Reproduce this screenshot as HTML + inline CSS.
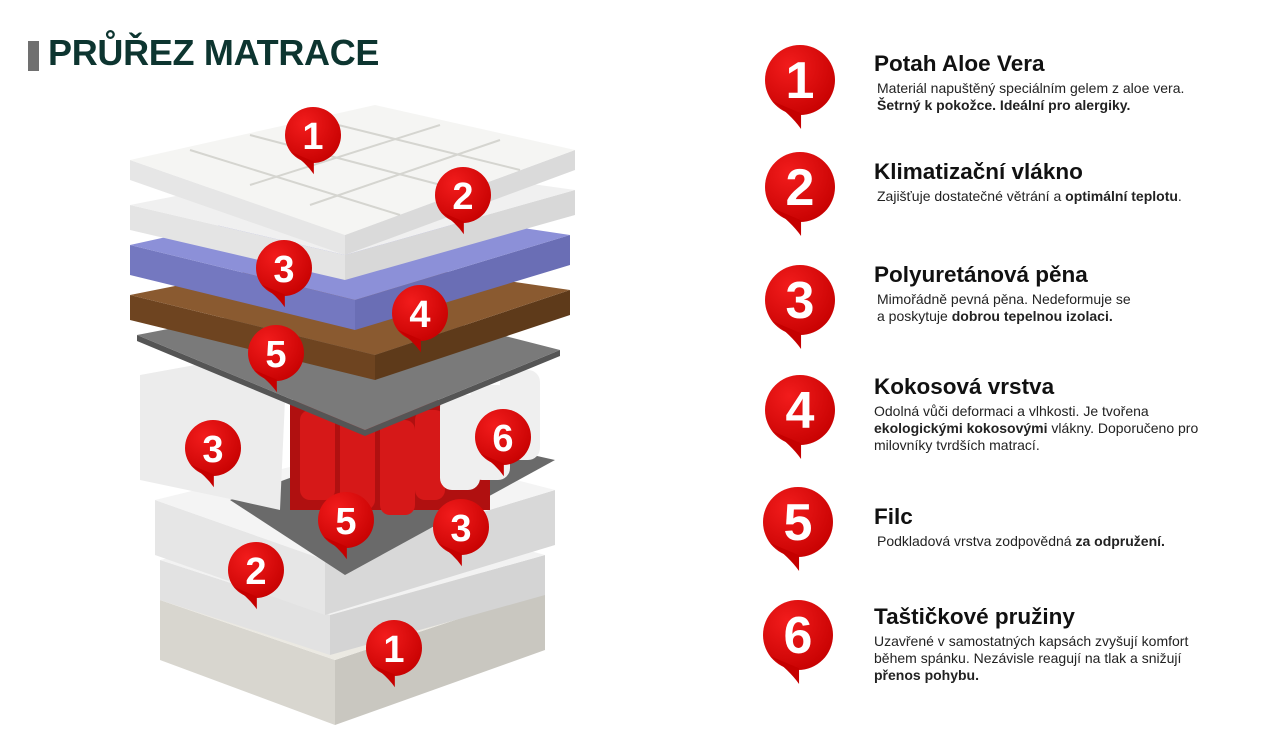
<!DOCTYPE html>
<html><head><meta charset="utf-8"><style>
body{margin:0;width:1280px;height:743px;background:#fff;overflow:hidden;position:relative;font-family:"Liberation Sans",sans-serif}
.t{position:absolute;left:48px;top:32px;font-size:36px;font-weight:bold;color:#0d3530;letter-spacing:-0.3px}
.bar{position:absolute;left:28px;top:41px;width:11px;height:30px;background:#707070}
.it{position:absolute;left:874px}
.it h{display:block;font-size:22.5px;font-weight:bold;color:#111}
.it p{margin:3px 0 0 3px;font-size:14px;line-height:17px;color:#222}
</style></head><body>
<div class="bar"></div><div class="t">PRŮŘEZ MATRACE</div>
<svg width="1280" height="743" style="position:absolute;left:0;top:0">
<defs>
<radialGradient id="rg" cx="0.35" cy="0.3" r="0.8"><stop offset="0" stop-color="#f21c1c"/><stop offset="1" stop-color="#c50000"/></radialGradient>
<g id="pin"><circle r="1" fill="url(#rg)"/><path d="M-0.8,0.6 Q-0.25,1.0 0.03,1.4 L0.03,0.95 Z" fill="#c50000"/></g>
</defs>
<g stroke="none">
<polygon points="160,600 335,660 335,725 160,660" fill="#d8d6cf"/><polygon points="335,660 545,590 545,650 335,725" fill="#c9c7c0"/><polygon points="160,600 385,545 545,590 335,660" fill="#ebe9e2"/>
<polygon points="160,560 330,615 330,655 160,600" fill="#e2e2e2"/><polygon points="330,615 545,555 545,595 330,655" fill="#d4d4d4"/><polygon points="160,560 380,510 545,555 330,615" fill="#f2f2f2"/>
<polygon points="155,500 325,560 325,615 155,555" fill="#e6e6e6"/><polygon points="325,560 555,490 555,545 325,615" fill="#d8d8d8"/><polygon points="155,500 380,445 555,490 325,560" fill="#f4f4f4"/>
<polygon points="230,500 420,430 555,460 345,575" fill="#6a6a6a"/>
<rect x="290" y="400" width="200" height="110" fill="#b01010"/>
<g fill="#d61818"><rect x="300" y="410" width="35" height="90" rx="10"/><rect x="340" y="415" width="35" height="95" rx="10"/><rect x="380" y="420" width="35" height="95" rx="10"/><rect x="415" y="410" width="30" height="90" rx="10"/></g>
<g fill="#efefef"><rect x="440" y="395" width="40" height="95" rx="12"/><rect x="470" y="385" width="40" height="95" rx="12"/><rect x="500" y="370" width="40" height="90" rx="12"/></g>
<polygon points="140,375 250,355 285,400 280,510 235,500 140,480" fill="#ececec"/>
<polygon points="137,335 365,430 365,436 137,341" fill="#555"/><polygon points="365,430 560,350 560,356 365,436" fill="#555"/><polygon points="137,335 345,295 560,350 365,430" fill="#7a7a7a"/>
<polygon points="130,295 375,355 375,380 130,320" fill="#6e4420"/><polygon points="375,355 570,290 570,315 375,380" fill="#5e3a1a"/><polygon points="130,295 330,255 570,290 375,355" fill="#8a5a30"/>
<polygon points="130,245 355,300 355,330 130,275" fill="#7478c0"/><polygon points="355,300 570,235 570,265 355,330" fill="#6a6eb5"/><polygon points="130,245 335,200 570,235 355,300" fill="#8c90d8"/>
<polygon points="130,205 345,255 345,280 130,230" fill="#e4e4e4"/><polygon points="345,255 575,190 575,215 345,280" fill="#d8d8d8"/><polygon points="130,205 360,160 575,190 345,255" fill="#f0f0f0"/>
<polygon points="130,160 345,235 345,255 130,180" fill="#e6e6e6"/><polygon points="345,235 575,150 575,170 345,255" fill="#dadada"/><polygon points="130,160 375,105 575,150 345,235" fill="#f5f5f3"/>
<g stroke="#d5d5d0" stroke-width="2" fill="none"><path d="M250,135 L460,190 M310,118 L520,170 M190,150 L400,215"/><path d="M250,185 L440,125 M310,205 L500,140"/></g>
</g>
<g font-family="Liberation Sans" font-weight="bold" fill="#fff" text-anchor="middle">
<g transform="translate(313,135) scale(28)"><use href="#pin"/></g><text x="313" y="149" font-size="38">1</text>
<g transform="translate(463,195) scale(28)"><use href="#pin"/></g><text x="463" y="209" font-size="38">2</text>
<g transform="translate(284,268) scale(28)"><use href="#pin"/></g><text x="284" y="282" font-size="38">3</text>
<g transform="translate(420,313) scale(28)"><use href="#pin"/></g><text x="420" y="327" font-size="38">4</text>
<g transform="translate(276,353) scale(28)"><use href="#pin"/></g><text x="276" y="367" font-size="38">5</text>
<g transform="translate(213,448) scale(28)"><use href="#pin"/></g><text x="213" y="462" font-size="38">3</text>
<g transform="translate(503,437) scale(28)"><use href="#pin"/></g><text x="503" y="451" font-size="38">6</text>
<g transform="translate(346,520) scale(28)"><use href="#pin"/></g><text x="346" y="534" font-size="38">5</text>
<g transform="translate(461,527) scale(28)"><use href="#pin"/></g><text x="461" y="541" font-size="38">3</text>
<g transform="translate(256,570) scale(28)"><use href="#pin"/></g><text x="256" y="584" font-size="38">2</text>
<g transform="translate(394,648) scale(28)"><use href="#pin"/></g><text x="394" y="662" font-size="38">1</text>
<g transform="translate(800,80) scale(35)"><use href="#pin"/></g><text x="800" y="98" font-size="52">1</text>
<g transform="translate(800,187) scale(35)"><use href="#pin"/></g><text x="800" y="205" font-size="52">2</text>
<g transform="translate(800,300) scale(35)"><use href="#pin"/></g><text x="800" y="318" font-size="52">3</text>
<g transform="translate(800,410) scale(35)"><use href="#pin"/></g><text x="800" y="428" font-size="52">4</text>
<g transform="translate(798,522) scale(35)"><use href="#pin"/></g><text x="798" y="540" font-size="52">5</text>
<g transform="translate(798,635) scale(35)"><use href="#pin"/></g><text x="798" y="653" font-size="52">6</text>
</g>
</svg>
<div class="it" style="top:51px"><h>Potah Aloe Vera</h><p>Materiál napuštěný speciálním gelem z aloe vera.<br><b>Šetrný k pokožce. Ideální pro alergiky.</b></p></div>
<div class="it" style="top:159px"><h>Klimatizační vlákno</h><p>Zajišťuje dostatečné větrání a <b>optimální teplotu</b>.</p></div>
<div class="it" style="top:262px"><h>Polyuretánová pěna</h><p>Mimořádně pevná pěna. Nedeformuje se<br>a poskytuje <b>dobrou tepelnou izolaci.</b></p></div>
<div class="it" style="top:374px"><h>Kokosová vrstva</h><p style="margin-left:0">Odolná vůči deformaci a vlhkosti. Je tvořena<br><b>ekologickými kokosovými</b> vlákny. Doporučeno pro<br>milovníky tvrdších matrací.</p></div>
<div class="it" style="top:504px"><h>Filc</h><p>Podkladová vrstva zodpovědná <b>za odpružení.</b></p></div>
<div class="it" style="top:604px"><h>Taštičkové pružiny</h><p style="margin-left:0">Uzavřené v samostatných kapsách zvyšují komfort<br>během spánku. Nezávisle reagují na tlak a snižují<br><b>přenos pohybu.</b></p></div>
</body></html>
